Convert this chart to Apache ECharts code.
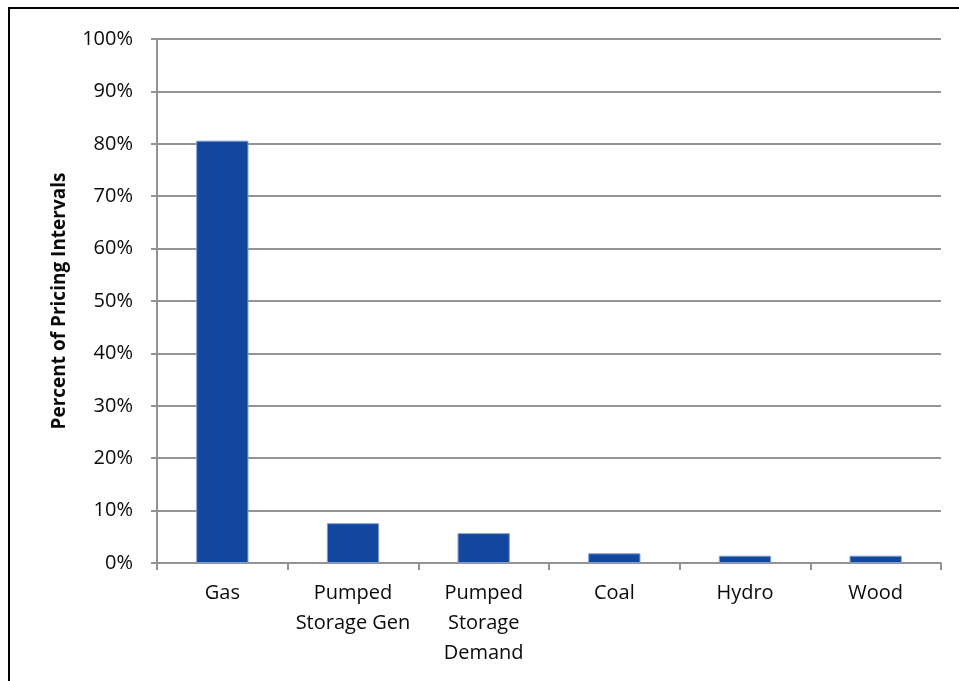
<!DOCTYPE html>
<html>
<head>
<meta charset="utf-8">
<script src="https://cdn.jsdelivr.net/npm/echarts@6/dist/echarts.min.js"></script>
<style>
  html, body { margin: 0; padding: 0; background: #fff; }
  #chart { width: 959px; height: 681px; }
</style>
</head>
<body>
<div id="chart"></div>
<script>
// Share of pricing intervals by marginal fuel type
const categories = ['Gas', 'Pumped\nStorage Gen', 'Pumped\nStorage\nDemand', 'Coal', 'Hydro', 'Wood'];
const shares = [80.6, 7.6, 5.7, 1.85, 1.4, 1.4];
const yTicks = [0, 10, 20, 30, 40, 50, 60, 70, 80, 90, 100];

const FONT = '"Open Sans", "DejaVu Sans", sans-serif';
const GRID_GREY = '#939393';

const chart = echarts.init(document.getElementById('chart'), null, { renderer: 'canvas' });

chart.setOption({
  backgroundColor: '#ffffff',
  animation: false,
  graphic: [{
    type: 'rect',
    shape: { x: 9, y: 8, width: 1000, height: 1000 },
    style: { fill: 'none', stroke: '#000000', lineWidth: 2 },
    silent: true
  }],
  grid: { left: 157, right: 18, top: 39, bottom: 118 },
  xAxis: {
    type: 'category',
    data: categories,
    axisLine: { show: true, lineStyle: { color: GRID_GREY, width: 2 } },
    axisTick: { show: true, alignWithLabel: false, length: 7, lineStyle: { color: GRID_GREY, width: 2 } },
    axisLabel: {
      color: '#0a0a0a', fontFamily: FONT, fontSize: 20, lineHeight: 30,
      margin: 15, interval: 0
    },
    splitLine: { show: false }
  },
  yAxis: {
    type: 'value',
    min: yTicks[0],
    max: yTicks[yTicks.length - 1],
    interval: yTicks[1] - yTicks[0],
    name: 'Percent of Pricing Intervals',
    nameLocation: 'middle',
    nameGap: 88,
    nameRotate: 90,
    nameTextStyle: { color: '#0a0a0a', fontFamily: FONT, fontSize: 19, fontWeight: 'bold' },
    axisLine: { show: true, lineStyle: { color: GRID_GREY, width: 2 } },
    axisTick: { show: true, length: 6, lineStyle: { color: GRID_GREY, width: 2 } },
    axisLabel: {
      color: '#0a0a0a', fontFamily: FONT, fontSize: 20, margin: 24,
      formatter: v => v + '%'
    },
    splitLine: { show: true, lineStyle: { color: GRID_GREY, width: 2 } }
  },
  series: [{
    type: 'bar',
    data: shares,
    barWidth: '40%',
    itemStyle: { color: '#12479D', borderColor: '#7f9fd0', borderWidth: 1 }
  }]
});
</script>
</body>
</html>
